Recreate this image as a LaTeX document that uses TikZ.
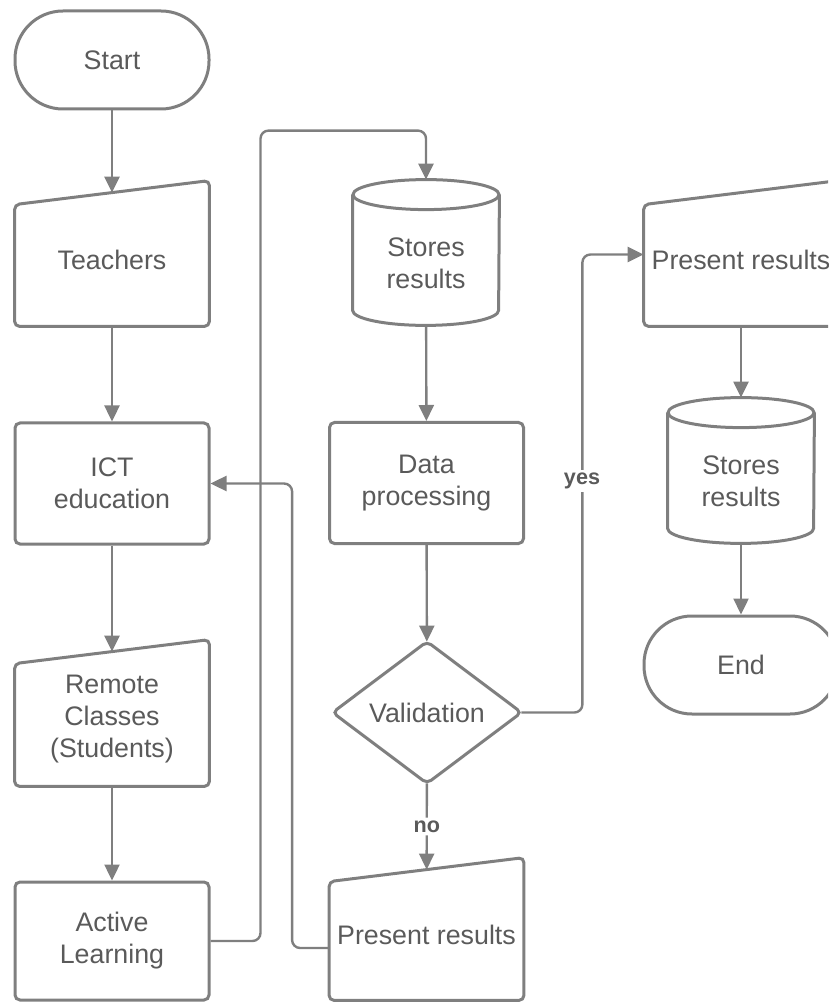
\documentclass[tikz,border=0pt]{standalone}
\usepackage{fontspec}
\setmainfont{Liberation Sans}
\usetikzlibrary{arrows.meta,calc}
\definecolor{linegray}{HTML}{7F7F7F}
\definecolor{textgray}{HTML}{5A5A5A}

\begin{document}
\begin{tikzpicture}[x=0.5pt,y=-0.5pt,
  txt/.style={text=textgray, font=\fontsize{13.4}{16}\selectfont, align=center},
  box/.style={txt, inner sep=0pt, minimum width=97pt},
  outline/.style={draw=linegray, line width=1.5pt, rounded corners=2.5pt},
  terminal/.style={box, outline, rounded corners=24pt, minimum height=49pt},
  process/.style={box, outline, minimum height=60.5pt},
  manualin/.style={box},
  store/.style={box, minimum width=73pt, minimum height=72.5pt},
  decision/.style={box, minimum width=94pt, minimum height=70.5pt},
  conn/.style={draw=linegray, line width=1.2pt, rounded corners=4pt,
    -{Triangle[length=8pt,width=7.5pt]}},
  lbl/.style={text=textgray, font=\bfseries\fontsize{10.8}{12}\selectfont,
    fill=white, inner sep=1.5pt}
]
\clip (0,0) rectangle (828,1004);

% left column
\node[terminal] (start) at (112,60) {Start};
\node[manualin, minimum height=66.5pt] (teach) at (112,259.5) {Teachers};
\node[process] (ict) at (112,483.5) {ICT\\education};
\node[manualin, minimum height=67pt] (remote) at (112,719) {Remote\\Classes\\(Students)};
\node[process, minimum height=59pt] (active) at (112,941) {Active\\Learning};

% middle column
\node[store, label={[txt, yshift=-5.5pt]center:{Stores\\results}}] (stor1) at (426,252.5) {};
\node[process] (data) at (426.5,483) {Data\\processing};
\node[decision] (valid) at (427,712.5) {Validation};
\node[manualin, minimum height=65pt] (presA) at (426.5,935) {Present results};

% right column
\node[manualin, minimum height=66.5pt] (presB) at (741,259.5) {Present results};
\node[store, label={[txt, yshift=-5.5pt]center:{Stores\\results}}] (stor2) at (741,470.5) {};
\node[terminal] (end) at (741,665) {End};

% manual input outlines (slanted top edge)
\foreach \n in {teach,remote,presA,presB}
  \draw[outline] ([yshift=-6pt]\n.north west) -- ([yshift=6pt]\n.north east)
    -- (\n.south east) -- (\n.south west) -- cycle;

% stored data outlines
\foreach \n in {stor1,stor2}{
  \draw[outline, rounded corners=0pt] ([yshift=-7.5pt]\n.north)
    ellipse [x radius=36.5pt, y radius=7.5pt];
  \draw[outline, rounded corners=0pt] ([yshift=-7.5pt]\n.north west)
    -- ([yshift=7.5pt]\n.south west)
    arc[start angle=180, end angle=360, x radius=36.5pt, y radius=7.5pt]
    -- ([yshift=-7.5pt]\n.north east);
}

% decision outline
\draw[outline] (valid.north) -- (valid.east) -- (valid.south) -- (valid.west) -- cycle;

% connectors
\draw[conn] (start) -- (teach);
\draw[conn] (teach) -- (ict);
\draw[conn] (ict) -- (remote);
\draw[conn] (remote) -- (active);
\draw[conn] (active.east) -- ([xshift=25pt]active.east)
  |- ([yshift=24.5pt]stor1.north) -- (stor1.north);
\draw[conn] ([yshift=-6.5pt]presA.west) -- ++(-37,0) |- (ict.east);
\draw[conn] (stor1) -- (data);
\draw[conn] (data) -- (valid);
\draw[conn] (valid) -- node[lbl] (no) {no} (presA);
\draw[conn] (valid.east) -- ++(61,0) |- ([yshift=2.5pt]presB.west);
\node[lbl] (yes) at (582,481) {yes};
\draw[conn] (presB) -- (stor2);
\draw[conn] (stor2) -- (end);
\end{tikzpicture}
\end{document}
